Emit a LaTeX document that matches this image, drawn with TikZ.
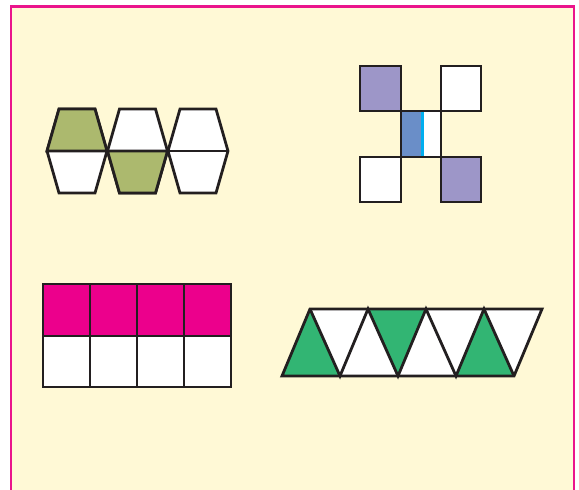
\documentclass[tikz,border=0pt]{standalone}
\usepackage{tikz}

\definecolor{cream}{RGB}{255,249,214}
\definecolor{framepink}{RGB}{234,20,140}
\definecolor{olive}{RGB}{172,185,110}
\definecolor{lilac}{RGB}{157,150,200}
\definecolor{steel}{RGB}{106,142,200}
\definecolor{skyline}{RGB}{0,174,239}
\definecolor{rosered}{RGB}{236,0,140}
\definecolor{mint}{RGB}{50,181,115}
\definecolor{ink}{RGB}{35,31,32}

\begin{document}
\begin{tikzpicture}[x=1pt, y=-1pt, line width=2.8pt, draw=ink]
    \clip (0,0) rectangle (579,490);
    \fill[white] (0,0) rectangle (579,490);
    \filldraw[fill=cream, draw=framepink, line width=2.6pt] (11,6.5) rectangle (574,500);

    % hexagons
    \filldraw[fill=white] (47,151) -- (59,109) -- (95,109) -- (107,151) -- (95,193) -- (59,193) -- cycle;
    \filldraw[fill=white] (107.5,151) -- (119.5,109) -- (155.5,109) -- (167.5,151) -- (155.5,193) -- (119.5,193) -- cycle;
    \filldraw[fill=white] (168,151) -- (180,109) -- (216,109) -- (228,151) -- (216,193) -- (180,193) -- cycle;
    \filldraw[fill=olive] (47,151) -- (59,109) -- (95,109) -- (107,151) -- cycle;
    \filldraw[fill=olive] (107.5,151) -- (119.5,193) -- (155.5,193) -- (167.5,151) -- cycle;
    \draw (47,151) -- (228,151);

    % squares
    \filldraw[fill=lilac] (360,66) rectangle (401,111);
    \filldraw[fill=white] (441,66) rectangle (481,111);
    \fill[white] (401,111) rectangle (441,157);
    \fill[steel] (401,111) rectangle (421,157);
    \fill[skyline] (421,111) rectangle (423.5,157);
    \draw (401,111) rectangle (441,157);
    \filldraw[fill=white] (360,157) rectangle (401,202);
    \filldraw[fill=lilac] (441,157) rectangle (481,202);

    % grid
    \fill[rosered] (43,284) rectangle (231,336);
    \fill[white] (43,336) rectangle (231,387);
    \draw (43,284) rectangle (231,387);
    \draw (43,336) -- (231,336);
    \draw (90,284) -- (90,387);
    \draw (137,284) -- (137,387);
    \draw (184,284) -- (184,387);

    % triangles
    \fill[white] (282,376) -- (310,309) -- (542,309) -- (514,376) -- cycle;
    \fill[mint] (282,376) -- (340,376) -- (310,309) -- cycle;
    \fill[mint] (368,309) -- (426,309) -- (398,376) -- cycle;
    \fill[mint] (456,376) -- (514,376) -- (484,309) -- cycle;
    \draw (282,376) -- (310,309) -- (542,309) -- (514,376) -- cycle;
    \draw (310,309) -- (340,376) -- (368,309) -- (398,376) -- (426,309) -- (456,376) -- (484,309) -- (514,376);
\end{tikzpicture}
\end{document}
